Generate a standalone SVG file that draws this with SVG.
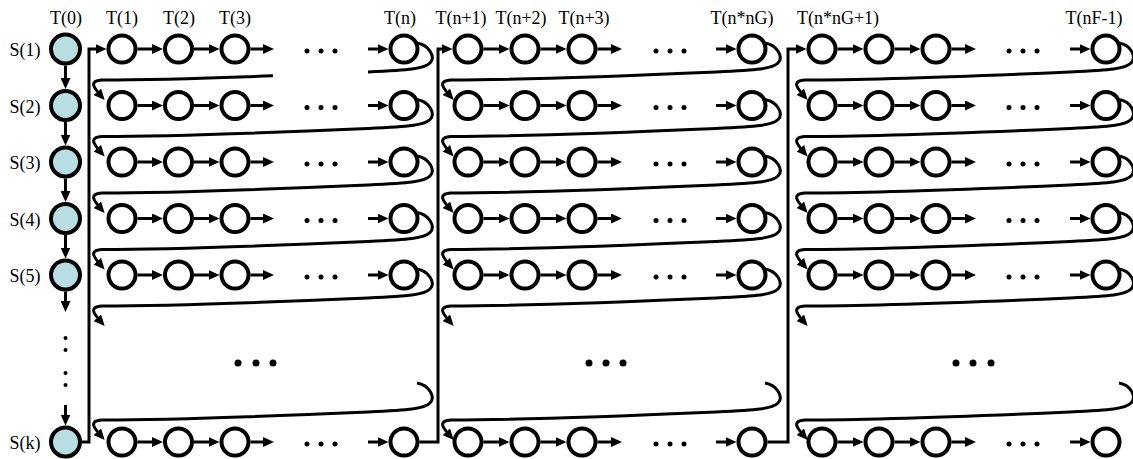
<svg xmlns="http://www.w3.org/2000/svg" width="1133" height="459" viewBox="0 0 1133 459">
<style>
.w{fill:#fff;stroke:#000;stroke-width:4}
.b{fill:#b9dee2;stroke:#000;stroke-width:4}
.a{fill:none;stroke:#000;stroke-width:3;marker-end:url(#ah)}
.l{fill:none;stroke:#000;stroke-width:3}
.d{fill:#000}
text{font-family:"Liberation Serif","Times New Roman",serif;font-size:18px;fill:#000;text-anchor:middle}
</style>
<defs>
<marker id="ah" markerUnits="userSpaceOnUse" viewBox="0 0 11 10" markerWidth="11" markerHeight="10" refX="7" refY="5" orient="auto"><path d="M0,0L11,5L0,10z" fill="#000"/></marker>
</defs>
<rect width="1133" height="459" fill="#fff"/>
<g id="col-labels">
<text x="66" y="24">T(0)</text><text x="122" y="24">T(1)</text><text x="179" y="24">T(2)</text><text x="235" y="24">T(3)</text><text x="400" y="24">T(n)</text>
<text x="461" y="24">T(n+1)</text><text x="521" y="24">T(n+2)</text><text x="584" y="24">T(n+3)</text><text x="742" y="24">T(n*nG)</text>
<text x="838" y="24">T(n*nG+1)</text><text x="1094" y="24">T(nF-1)</text>
</g>
<g id="connectors">
<path class="a" d="M65.5,65.5V85"/><path class="a" d="M65.5,122V141.5"/><path class="a" d="M65.5,178.5V198"/><path class="a" d="M65.5,235V254.5"/><path class="a" d="M65.5,291.5V308"/><path class="a" d="M65.5,405V421.5"/>
<path class="a" d="M82,442H89V49H102.5"/><path class="a" d="M419.5,442H438V49H448.5"/><path class="a" d="M767.5,442H788V49H802.5"/>
<path class="a" d="M137.5,49H159"/><path class="a" d="M194,49H215.5"/><path class="a" d="M250.5,49H270"/><path class="a" d="M368,49H384.5"/>
<path class="a" d="M483.5,49H505.5"/><path class="a" d="M540.5,49H562.5"/><path class="a" d="M597.5,49H618"/><path class="a" d="M716,49H732.5"/>
<path class="a" d="M837.5,49H859.5"/><path class="a" d="M894.5,49H916.5"/><path class="a" d="M951.5,49H972"/><path class="a" d="M1070,49H1086.5"/>
<path class="a" d="M137.5,105.5H159"/><path class="a" d="M194,105.5H215.5"/><path class="a" d="M250.5,105.5H270"/><path class="a" d="M368,105.5H384.5"/>
<path class="a" d="M483.5,105.5H505.5"/><path class="a" d="M540.5,105.5H562.5"/><path class="a" d="M597.5,105.5H618"/><path class="a" d="M716,105.5H732.5"/>
<path class="a" d="M837.5,105.5H859.5"/><path class="a" d="M894.5,105.5H916.5"/><path class="a" d="M951.5,105.5H972"/><path class="a" d="M1070,105.5H1086.5"/>
<path class="a" d="M137.5,162H159"/><path class="a" d="M194,162H215.5"/><path class="a" d="M250.5,162H270"/><path class="a" d="M368,162H384.5"/>
<path class="a" d="M483.5,162H505.5"/><path class="a" d="M540.5,162H562.5"/><path class="a" d="M597.5,162H618"/><path class="a" d="M716,162H732.5"/>
<path class="a" d="M837.5,162H859.5"/><path class="a" d="M894.5,162H916.5"/><path class="a" d="M951.5,162H972"/><path class="a" d="M1070,162H1086.5"/>
<path class="a" d="M137.5,218.5H159"/><path class="a" d="M194,218.5H215.5"/><path class="a" d="M250.5,218.5H270"/><path class="a" d="M368,218.5H384.5"/>
<path class="a" d="M483.5,218.5H505.5"/><path class="a" d="M540.5,218.5H562.5"/><path class="a" d="M597.5,218.5H618"/><path class="a" d="M716,218.5H732.5"/>
<path class="a" d="M837.5,218.5H859.5"/><path class="a" d="M894.5,218.5H916.5"/><path class="a" d="M951.5,218.5H972"/><path class="a" d="M1070,218.5H1086.5"/>
<path class="a" d="M137.5,275H159"/><path class="a" d="M194,275H215.5"/><path class="a" d="M250.5,275H270"/><path class="a" d="M368,275H384.5"/>
<path class="a" d="M483.5,275H505.5"/><path class="a" d="M540.5,275H562.5"/><path class="a" d="M597.5,275H618"/><path class="a" d="M716,275H732.5"/>
<path class="a" d="M837.5,275H859.5"/><path class="a" d="M894.5,275H916.5"/><path class="a" d="M951.5,275H972"/><path class="a" d="M1070,275H1086.5"/>
<path class="a" d="M137.5,442H159"/><path class="a" d="M194,442H215.5"/><path class="a" d="M250.5,442H270"/><path class="a" d="M368,442H384.5"/>
<path class="a" d="M483.5,442H505.5"/><path class="a" d="M540.5,442H562.5"/><path class="a" d="M597.5,442H618"/><path class="a" d="M716,442H732.5"/>
<path class="a" d="M837.5,442H859.5"/><path class="a" d="M894.5,442H916.5"/><path class="a" d="M951.5,442H972"/><path class="a" d="M1070,442H1086.5"/>
<!-- wrap arrows group 1 -->
<path class="l" d="M417,43C429,45 436,57 430,63C424,69 409,70 368,72"/>
<path class="a" d="M273,75.8Q159.8,80 102,80C88,81 94,88 102,97"/>
<path class="a" d="M417,99.5C429,101.5 436,113.5 430,119.5C424,125.5 409,126.5 368,128.5Q182,136.5 102,136.5C88,137.5 94,144.5 102,153.5"/>
<path class="a" d="M417,156C429,158 436,170 430,176C424,182 409,183 368,185Q182,193 102,193C88,194 94,201 102,210"/>
<path class="a" d="M417,212.5C429,214.5 436,226.5 430,232.5C424,238.5 409,239.5 368,241.5Q182,249.5 102,249.5C88,250.5 94,257.5 102,266.5"/>
<path class="a" d="M417,269C429,271 436,283 430,289C424,295 409,296 368,298Q182,306 102,306C88,307 94,314 102,323"/>
<path class="a" d="M417,383C429,385 436,397 430,403C424,409 409,410 368,412Q182,420 102,420C88,421 94,428 102,437"/>
<!-- wrap arrows group 2 -->
<path class="a" d="M765,43C777,45 784,57 778,63C772,69 757,70 716,72Q531,80 451,80C437,81 443,88 451,97"/>
<path class="a" d="M765,99.5C777,101.5 784,113.5 778,119.5C772,125.5 757,126.5 716,128.5Q531,136.5 451,136.5C437,137.5 443,144.5 451,153.5"/>
<path class="a" d="M765,156C777,158 784,170 778,176C772,182 757,183 716,185Q531,193 451,193C437,194 443,201 451,210"/>
<path class="a" d="M765,212.5C777,214.5 784,226.5 778,232.5C772,238.5 757,239.5 716,241.5Q531,249.5 451,249.5C437,250.5 443,257.5 451,266.5"/>
<path class="a" d="M765,269C777,271 784,283 778,289C772,295 757,296 716,298Q531,306 451,306C437,307 443,314 451,323"/>
<path class="a" d="M765,383C777,385 784,397 778,403C772,409 757,410 716,412Q531,420 451,420C437,421 443,428 451,437"/>
<!-- wrap arrows group 3 -->
<path class="a" d="M1119,43C1131,45 1137,57 1131,63C1125,69 1111,70 1070,72Q885,80 805,80C791,81 797,88 805,97"/>
<path class="a" d="M1119,99.5C1131,101.5 1137,113.5 1131,119.5C1125,125.5 1111,126.5 1070,128.5Q885,136.5 805,136.5C791,137.5 797,144.5 805,153.5"/>
<path class="a" d="M1119,156C1131,158 1137,170 1131,176C1125,182 1111,183 1070,185Q885,193 805,193C791,194 797,201 805,210"/>
<path class="a" d="M1119,212.5C1131,214.5 1137,226.5 1131,232.5C1125,238.5 1111,239.5 1070,241.5Q885,249.5 805,249.5C791,250.5 797,257.5 805,266.5"/>
<path class="a" d="M1119,269C1131,271 1137,283 1131,289C1125,295 1111,296 1070,298Q885,306 805,306C791,307 797,314 805,323"/>
<path class="a" d="M1119,383C1131,385 1137,397 1131,403C1125,409 1111,410 1070,412Q885,420 805,420C791,421 797,428 805,437"/>
</g>
<g id="ellipses">
<circle class="d" cx="65.5" cy="338" r="2"/><circle class="d" cx="65.5" cy="350" r="2"/><circle class="d" cx="65.5" cy="373" r="2"/><circle class="d" cx="65.5" cy="385" r="2"/>
<circle class="d" cx="238" cy="363" r="3.5"/><circle class="d" cx="256" cy="363" r="3.5"/><circle class="d" cx="273" cy="363" r="3.5"/>
<circle class="d" cx="589" cy="363" r="3.5"/><circle class="d" cx="606" cy="363" r="3.5"/><circle class="d" cx="623" cy="363" r="3.5"/>
<circle class="d" cx="956" cy="363" r="3.5"/><circle class="d" cx="973" cy="363" r="3.5"/><circle class="d" cx="991" cy="363" r="3.5"/>
<circle class="d" cx="307" cy="51" r="2.5"/><circle class="d" cx="321" cy="51" r="2.5"/><circle class="d" cx="335" cy="51" r="2.5"/>
<circle class="d" cx="656" cy="51" r="2.5"/><circle class="d" cx="670" cy="51" r="2.5"/><circle class="d" cx="684" cy="51" r="2.5"/>
<circle class="d" cx="1009" cy="51" r="2.5"/><circle class="d" cx="1023" cy="51" r="2.5"/><circle class="d" cx="1037" cy="51" r="2.5"/>
<circle class="d" cx="307" cy="107.5" r="2.5"/><circle class="d" cx="321" cy="107.5" r="2.5"/><circle class="d" cx="335" cy="107.5" r="2.5"/>
<circle class="d" cx="656" cy="107.5" r="2.5"/><circle class="d" cx="670" cy="107.5" r="2.5"/><circle class="d" cx="684" cy="107.5" r="2.5"/>
<circle class="d" cx="1009" cy="107.5" r="2.5"/><circle class="d" cx="1023" cy="107.5" r="2.5"/><circle class="d" cx="1037" cy="107.5" r="2.5"/>
<circle class="d" cx="307" cy="164" r="2.5"/><circle class="d" cx="321" cy="164" r="2.5"/><circle class="d" cx="335" cy="164" r="2.5"/>
<circle class="d" cx="656" cy="164" r="2.5"/><circle class="d" cx="670" cy="164" r="2.5"/><circle class="d" cx="684" cy="164" r="2.5"/>
<circle class="d" cx="1009" cy="164" r="2.5"/><circle class="d" cx="1023" cy="164" r="2.5"/><circle class="d" cx="1037" cy="164" r="2.5"/>
<circle class="d" cx="307" cy="220.5" r="2.5"/><circle class="d" cx="321" cy="220.5" r="2.5"/><circle class="d" cx="335" cy="220.5" r="2.5"/>
<circle class="d" cx="656" cy="220.5" r="2.5"/><circle class="d" cx="670" cy="220.5" r="2.5"/><circle class="d" cx="684" cy="220.5" r="2.5"/>
<circle class="d" cx="1009" cy="220.5" r="2.5"/><circle class="d" cx="1023" cy="220.5" r="2.5"/><circle class="d" cx="1037" cy="220.5" r="2.5"/>
<circle class="d" cx="307" cy="277" r="2.5"/><circle class="d" cx="321" cy="277" r="2.5"/><circle class="d" cx="335" cy="277" r="2.5"/>
<circle class="d" cx="656" cy="277" r="2.5"/><circle class="d" cx="670" cy="277" r="2.5"/><circle class="d" cx="684" cy="277" r="2.5"/>
<circle class="d" cx="1009" cy="277" r="2.5"/><circle class="d" cx="1023" cy="277" r="2.5"/><circle class="d" cx="1037" cy="277" r="2.5"/>
<circle class="d" cx="307" cy="444" r="2.5"/><circle class="d" cx="321" cy="444" r="2.5"/><circle class="d" cx="335" cy="444" r="2.5"/>
<circle class="d" cx="656" cy="444" r="2.5"/><circle class="d" cx="670" cy="444" r="2.5"/><circle class="d" cx="684" cy="444" r="2.5"/>
<circle class="d" cx="1009" cy="444" r="2.5"/><circle class="d" cx="1023" cy="444" r="2.5"/><circle class="d" cx="1037" cy="444" r="2.5"/>
</g>
<g id="s1"><circle class="b" cx="65.5" cy="49" r="14.5"/><text x="25" y="56">S(1)</text></g>
<g id="s2"><circle class="b" cx="65.5" cy="105.5" r="14.5"/><text x="25" y="112.5">S(2)</text></g>
<g id="s3"><circle class="b" cx="65.5" cy="162" r="14.5"/><text x="25" y="169">S(3)</text></g>
<g id="s4"><circle class="b" cx="65.5" cy="218.5" r="14.5"/><text x="25" y="225.5">S(4)</text></g>
<g id="s5"><circle class="b" cx="65.5" cy="275" r="14.5"/><text x="25" y="282">S(5)</text></g>
<g id="sk"><circle class="b" cx="65.5" cy="442" r="14.5"/><text x="25" y="449">S(k)</text></g>
<g id="n-t1-1"><circle class="w" cx="122" cy="49" r="13.5"/></g><g id="n-t2-1"><circle class="w" cx="178.5" cy="49" r="13.5"/></g><g id="n-t3-1"><circle class="w" cx="235" cy="49" r="13.5"/></g><g id="n-tn-1"><circle class="w" cx="404" cy="49" r="13.5"/></g>
<g id="n-tn1-1"><circle class="w" cx="468" cy="49" r="13.5"/></g><g id="n-tn2-1"><circle class="w" cx="525" cy="49" r="13.5"/></g><g id="n-tn3-1"><circle class="w" cx="582" cy="49" r="13.5"/></g><g id="n-tnng-1"><circle class="w" cx="752" cy="49" r="13.5"/></g>
<g id="n-tnng1-1"><circle class="w" cx="822" cy="49" r="13.5"/></g><g id="n-tnng2-1"><circle class="w" cx="879" cy="49" r="13.5"/></g><g id="n-tnng3-1"><circle class="w" cx="936" cy="49" r="13.5"/></g><g id="n-tnf-1"><circle class="w" cx="1106" cy="49" r="13.5"/></g>
<g id="n-t1-2"><circle class="w" cx="122" cy="105.5" r="13.5"/></g><g id="n-t2-2"><circle class="w" cx="178.5" cy="105.5" r="13.5"/></g><g id="n-t3-2"><circle class="w" cx="235" cy="105.5" r="13.5"/></g><g id="n-tn-2"><circle class="w" cx="404" cy="105.5" r="13.5"/></g>
<g id="n-tn1-2"><circle class="w" cx="468" cy="105.5" r="13.5"/></g><g id="n-tn2-2"><circle class="w" cx="525" cy="105.5" r="13.5"/></g><g id="n-tn3-2"><circle class="w" cx="582" cy="105.5" r="13.5"/></g><g id="n-tnng-2"><circle class="w" cx="752" cy="105.5" r="13.5"/></g>
<g id="n-tnng1-2"><circle class="w" cx="822" cy="105.5" r="13.5"/></g><g id="n-tnng2-2"><circle class="w" cx="879" cy="105.5" r="13.5"/></g><g id="n-tnng3-2"><circle class="w" cx="936" cy="105.5" r="13.5"/></g><g id="n-tnf-2"><circle class="w" cx="1106" cy="105.5" r="13.5"/></g>
<g id="n-t1-3"><circle class="w" cx="122" cy="162" r="13.5"/></g><g id="n-t2-3"><circle class="w" cx="178.5" cy="162" r="13.5"/></g><g id="n-t3-3"><circle class="w" cx="235" cy="162" r="13.5"/></g><g id="n-tn-3"><circle class="w" cx="404" cy="162" r="13.5"/></g>
<g id="n-tn1-3"><circle class="w" cx="468" cy="162" r="13.5"/></g><g id="n-tn2-3"><circle class="w" cx="525" cy="162" r="13.5"/></g><g id="n-tn3-3"><circle class="w" cx="582" cy="162" r="13.5"/></g><g id="n-tnng-3"><circle class="w" cx="752" cy="162" r="13.5"/></g>
<g id="n-tnng1-3"><circle class="w" cx="822" cy="162" r="13.5"/></g><g id="n-tnng2-3"><circle class="w" cx="879" cy="162" r="13.5"/></g><g id="n-tnng3-3"><circle class="w" cx="936" cy="162" r="13.5"/></g><g id="n-tnf-3"><circle class="w" cx="1106" cy="162" r="13.5"/></g>
<g id="n-t1-4"><circle class="w" cx="122" cy="218.5" r="13.5"/></g><g id="n-t2-4"><circle class="w" cx="178.5" cy="218.5" r="13.5"/></g><g id="n-t3-4"><circle class="w" cx="235" cy="218.5" r="13.5"/></g><g id="n-tn-4"><circle class="w" cx="404" cy="218.5" r="13.5"/></g>
<g id="n-tn1-4"><circle class="w" cx="468" cy="218.5" r="13.5"/></g><g id="n-tn2-4"><circle class="w" cx="525" cy="218.5" r="13.5"/></g><g id="n-tn3-4"><circle class="w" cx="582" cy="218.5" r="13.5"/></g><g id="n-tnng-4"><circle class="w" cx="752" cy="218.5" r="13.5"/></g>
<g id="n-tnng1-4"><circle class="w" cx="822" cy="218.5" r="13.5"/></g><g id="n-tnng2-4"><circle class="w" cx="879" cy="218.5" r="13.5"/></g><g id="n-tnng3-4"><circle class="w" cx="936" cy="218.5" r="13.5"/></g><g id="n-tnf-4"><circle class="w" cx="1106" cy="218.5" r="13.5"/></g>
<g id="n-t1-5"><circle class="w" cx="122" cy="275" r="13.5"/></g><g id="n-t2-5"><circle class="w" cx="178.5" cy="275" r="13.5"/></g><g id="n-t3-5"><circle class="w" cx="235" cy="275" r="13.5"/></g><g id="n-tn-5"><circle class="w" cx="404" cy="275" r="13.5"/></g>
<g id="n-tn1-5"><circle class="w" cx="468" cy="275" r="13.5"/></g><g id="n-tn2-5"><circle class="w" cx="525" cy="275" r="13.5"/></g><g id="n-tn3-5"><circle class="w" cx="582" cy="275" r="13.5"/></g><g id="n-tnng-5"><circle class="w" cx="752" cy="275" r="13.5"/></g>
<g id="n-tnng1-5"><circle class="w" cx="822" cy="275" r="13.5"/></g><g id="n-tnng2-5"><circle class="w" cx="879" cy="275" r="13.5"/></g><g id="n-tnng3-5"><circle class="w" cx="936" cy="275" r="13.5"/></g><g id="n-tnf-5"><circle class="w" cx="1106" cy="275" r="13.5"/></g>
<g id="n-t1-k"><circle class="w" cx="122" cy="442" r="13.5"/></g><g id="n-t2-k"><circle class="w" cx="178.5" cy="442" r="13.5"/></g><g id="n-t3-k"><circle class="w" cx="235" cy="442" r="13.5"/></g><g id="n-tn-k"><circle class="w" cx="404" cy="442" r="13.5"/></g>
<g id="n-tn1-k"><circle class="w" cx="468" cy="442" r="13.5"/></g><g id="n-tn2-k"><circle class="w" cx="525" cy="442" r="13.5"/></g><g id="n-tn3-k"><circle class="w" cx="582" cy="442" r="13.5"/></g><g id="n-tnng-k"><circle class="w" cx="752" cy="442" r="13.5"/></g>
<g id="n-tnng1-k"><circle class="w" cx="822" cy="442" r="13.5"/></g><g id="n-tnng2-k"><circle class="w" cx="879" cy="442" r="13.5"/></g><g id="n-tnng3-k"><circle class="w" cx="936" cy="442" r="13.5"/></g><g id="n-tnf-k"><circle class="w" cx="1106" cy="442" r="13.5"/></g>
</svg>
